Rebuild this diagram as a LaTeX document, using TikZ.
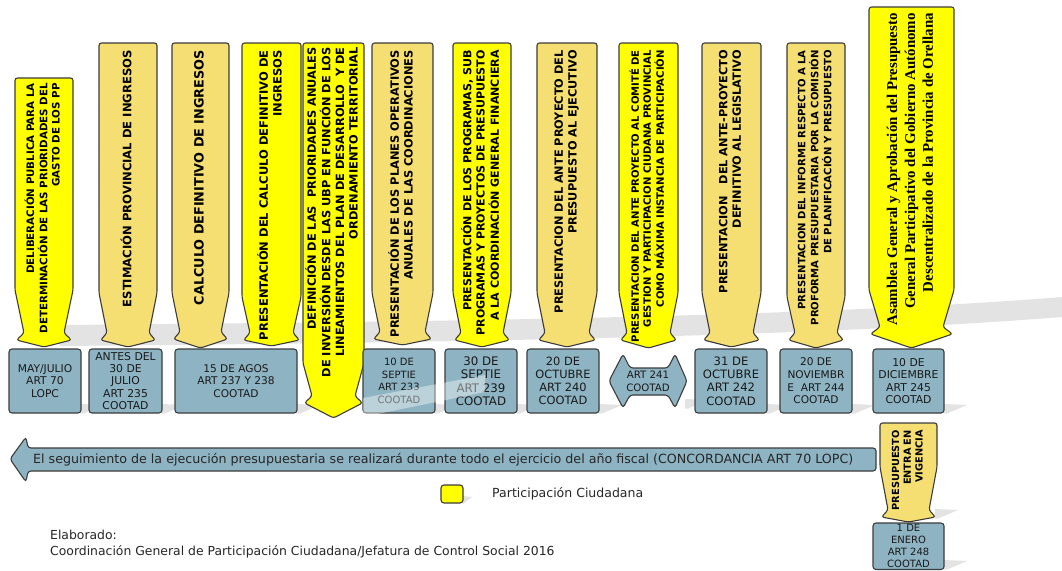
\documentclass[tikz,border=0pt]{standalone}
\usepackage{fontspec}
\setmainfont{DejaVu Sans}
\newfontfamily\serifb{Liberation Serif}
\usepackage{graphicx}
\usetikzlibrary{calc}
\definecolor{ybright}{HTML}{FFFF00}
\definecolor{ylight}{HTML}{F6DF72}
\definecolor{boxblue}{HTML}{8EB4C3}
\definecolor{edge}{HTML}{3C3C3C}
\definecolor{shadowgray}{HTML}{E3E3E3}
\tikzset{
  cshape/.style={draw=edge, line width=1.1pt, rounded corners=2.5pt, line join=round},
  ctext/.style={rotate=90, anchor=east, inner sep=0pt},
  boxshape/.style={draw=edge, line width=1.1pt, fill=boxblue, rounded corners=3pt},
  boxtext/.style={align=center, inner sep=0pt, text=black!90},
  plaintext/.style={inner sep=0pt, text=black!85},
  wedge/.style={fill=shadowgray, draw=none},
}
\newcommand{\fitw}[2]{\resizebox{#1pt}{!}{#2}}
\newcommand{\ctab}[1]{\bfseries\fontsize{10}{12}\selectfont\begin{tabular}{@{}r@{}}#1\end{tabular}}
% fill, xl, xr, ytop, ybody, yneck, ytip, inset
\newcommand{\callout}[8]{%
  \pgfmathsetmacro\cxa{#2+#8}%
  \pgfmathsetmacro\cxb{#3-#8}%
  \pgfmathsetmacro\cxc{(#2+#3)/2}%
  \pgfmathsetmacro\cye{#6+7}%
  \pgfmathsetmacro\cxl{#2+1.5}%
  \pgfmathsetmacro\cxr{#3-1.5}%
  \draw[cshape, fill=#1] (\cxc,#4) -- (#3,#4) -- (#3,#5) -- (\cxb,#6) -- (\cxr,\cye) -- (\cxc,#7) -- (\cxl,\cye) -- (\cxa,#6) -- (#2,#5) -- (#2,#4) -- cycle;
}
\newcommand{\bshadow}[2]{\fill[wedge] (#1,#2-9) -- (#1+23,#2-8) -- (#1+3,#2+0.5) -- (#1,#2+0.5) -- cycle;}
\begin{document}
\begin{tikzpicture}[x=1pt,y=-1pt]
\useasboundingbox (0,0) rectangle (1062,570);
% background shadow band
\fill[wedge] (60,325) .. controls (400,322) and (800,318) .. (1062,297) -- (1062,317) .. controls (800,338) and (400,343) .. (60,346) -- cycle;
% box shadows
\bshadow{81}{413}\bshadow{162}{413}\bshadow{297}{413}\bshadow{435}{413}
\bshadow{517}{413}\bshadow{599}{413}\bshadow{685}{408}\bshadow{767}{413}
\bshadow{852}{413}\bshadow{944}{413}\bshadow{944}{569}\bshadow{935}{518}
\fill[wedge] (463,496) -- (472,497) -- (463,504) -- cycle;

% callouts
\callout{ybright}{15}{73}{78}{290}{333}{347}{9}
\callout{ylight}{99}{157}{43}{293}{333}{347}{8}
\callout{ylight}{172}{229}{43}{293}{332}{348}{8}
\callout{ybright}{242}{301}{43}{297}{333}{346}{8}
\callout{ybright}{303}{364}{43}{363}{396}{418}{9}
\callout{ylight}{372}{433}{43}{293}{332}{345}{8}
\callout{ybright}{453}{511}{43}{293}{333}{347}{8}
\callout{ylight}{537}{597}{43}{293}{333}{347}{8}
\callout{ybright}{619}{678}{43}{293}{333}{348}{8}
\callout{ylight}{702}{761}{43}{293}{333}{347}{8}
\callout{ylight}{787}{845}{43}{297}{333}{348}{8}
\callout{ybright}{869}{954}{7}{290}{327}{348}{11}
\callout{ylight}{880}{937}{423}{467}{510}{522}{8}

% callout texts
\node[ctext] (t1) at (44,83) {\fitw{250}{\ctab{DELIBERACIÓN PUBLICA PARA LA\\DETERMINACIÓN DE LAS PRIORIDADES DEL\\GASTO DE LOS PP}}};
\node[ctext] (t2) at (128,50) {\fitw{257}{\ctab{ESTIMACIÓN PROVINCIAL DE INGRESOS}}};
\node[ctext] (t3) at (200.5,50) {\fitw{255}{\ctab{CALCULO DEFINITIVO DE INGRESOS}}};
\node[ctext] (t4) at (271.5,50) {\fitw{290}{\ctab{PRESENTACIÓN DEL CALCULO DEFINITIVO DE\\INGRESOS}}};
\node[ctext] (t5) at (333.5,47) {\fitw{330}{\ctab{DEFINICIÓN DE LAS \ PRIORIDADES ANUALES\\DE INVERSIÓN DESDE LAS UBP EN FUNCIÓN DE LOS\\LINEAMIENTOS DEL PLAN DE DESARROLLO \ Y DE\\ORDENAMIENTO TERRITORIAL}}};
\node[ctext] (t6) at (402.5,50) {\fitw{287}{\ctab{PRESENTACIÓN DE LOS PLANES OPERATIVOS\\ANUALES DE LAS COORDINACIONES}}};
\node[ctext] (t7) at (482,50) {\fitw{285}{\ctab{PRESENTACIÓN DE LOS PROGRAMAS, SUB\\PROGRAMAS Y PROYECTOS DE PRESUPUESTO\\A LA COORDINACIÓN GENERAL FINANCIERA}}};
\node[ctext] (t8) at (567,50) {\fitw{263}{\ctab{PRESENTACION DEL ANTE PROYECTO DEL\\PRESUPUESTO AL EJECUTIVO}}};
\node[ctext] (t9) at (648.5,50) {\fitw{292}{\ctab{PRESENTACION DEL ANTE PROYECTO AL COMITÉ DE\\GESTION Y PARTICIPACION CIUDANA PROVINCIAL\\COMO MÁXIMA INSTANCIA DE PARTICIPACIÓN}}};
\node[ctext] (t10) at (731.5,50) {\fitw{243}{\ctab{PRESENTACION \ \ DEL ANTE-PROYECTO\\DEFINITIVO AL LEGISLATIVO}}};
\node[ctext] (t11) at (816,50) {\fitw{275}{\ctab{PRESENTACION DEL INFORME RESPECTO A LA\\PROFORMA PRESUPUESTARIA POR LA COMISIÓN\\DE PLANIFICACIÓN Y PRESUPUESTO}}};
\node[ctext] (t12) at (911.5,13) {\fitw{312}{\serifb\ctab{Asamblea General y Aprobación del Presupuesto\\General Participativo del Gobierno Autónomo\\Descentralizado de la Provincia de Orellana}}};
\node[ctext] (t13) at (908.5,430) {\fitw{80}{\ctab{PRESUPUESTO\\ENTRA EN\\VIGENCIA}}};

% date boxes
\node[boxshape, minimum width=72pt, minimum height=64pt, boxtext, font=\fontsize{10.7}{12.6}\selectfont] (b1) at (45,381) {MAY/JULIO\\ART 70\\LOPC};
\node[boxshape, minimum width=73pt, minimum height=64pt, boxtext, font=\fontsize{10.8}{12.3}\selectfont] (b2) at (125.5,381) {ANTES DEL\\30 DE\\JULIO\\ART 235\\COOTAD};
\node[boxshape, minimum width=122pt, minimum height=64pt, boxtext, font=\fontsize{10.6}{12.6}\selectfont] (b3) at (236,381) {15 DE AGOS\\ART 237 Y 238\\COOTAD};
\node[boxshape, minimum width=72pt, minimum height=64pt, boxtext, font=\fontsize{10}{12.6}\selectfont] (b4) at (399,381) {10 DE\\SEPTIE\\ART 233\\COOTAD};
\node[boxshape, minimum width=72pt, minimum height=64pt, boxtext, font=\fontsize{11.8}{13.4}\selectfont] (b5) at (481,381) {30 DE\\SEPTIE\\ART 239\\COOTAD};
\node[boxshape, minimum width=72pt, minimum height=64pt, boxtext, font=\fontsize{11.4}{13.2}\selectfont] (b6) at (563,381) {20 DE\\OCTUBRE\\ART 240\\COOTAD};
\draw[boxshape] (609,381) -- (623,354) -- (630,368) -- (668,368) -- (675,354) -- (687,381) -- (675,408) -- (668,395) -- (630,395) -- (623,408) -- cycle;
\node[boxtext, font=\fontsize{10.2}{13}\selectfont] (b7) at (648,381) {ART 241\\COOTAD};
\node[boxshape, minimum width=72pt, minimum height=64pt, boxtext, font=\fontsize{11.6}{13.2}\selectfont] (b8) at (731,381) {31 DE\\OCTUBRE\\ART 242\\COOTAD};
\node[boxshape, minimum width=72pt, minimum height=64pt, boxtext, font=\fontsize{10.6}{12.6}\selectfont] (b9) at (816,381) {20 DE\\NOVIEMBR\\E \ ART 244\\COOTAD};
\node[boxshape, minimum width=71pt, minimum height=64pt, boxtext, font=\fontsize{10.8}{12.6}\selectfont] (b10) at (908.5,381) {10 DE\\DICIEMBRE\\ART 245\\COOTAD};
\draw[boxshape] (873,523) rectangle (944,569.5);
\node[boxtext, font=\fontsize{10}{12}\selectfont] (b11) at (908.5,546) {1 DE\\ENERO\\ART 248\\COOTAD};

% translucent reflection band
\fill[white, opacity=0.4] (363,398) -- (485,375) -- (485,392) -- (363,417) -- cycle;

% long return arrow
\draw[boxshape] (10,459) -- (26,437) -- (28,448) -- (876,448) -- (876,471) -- (28,471) -- (26,482) -- cycle;
\node[plaintext, anchor=west] (seg) at (33,459.5) {\fitw{820}{El seguimiento de la ejecución presupuestaria se realizará durante todo el ejercicio del año fiscal (CONCORDANCIA ART 70 LOPC)}};

% legend
\draw[draw=edge, line width=1.1pt, fill=ybright, rounded corners=3pt] (441,485) rectangle (463,503);
\node[plaintext, anchor=west] (leg) at (492,494) {\fitw{151}{Participación Ciudadana}};

% credits
\node[plaintext, anchor=base west, font=\fontsize{12.4}{15}\selectfont] (cred1) at (50,539) {Elaborado:};
\node[plaintext, anchor=base west, font=\fontsize{12.4}{15}\selectfont] (cred2) at (50,555.5) {Coordinación General de Participación Ciudadana/Jefatura de Control Social 2016};
\end{tikzpicture}
\end{document}
